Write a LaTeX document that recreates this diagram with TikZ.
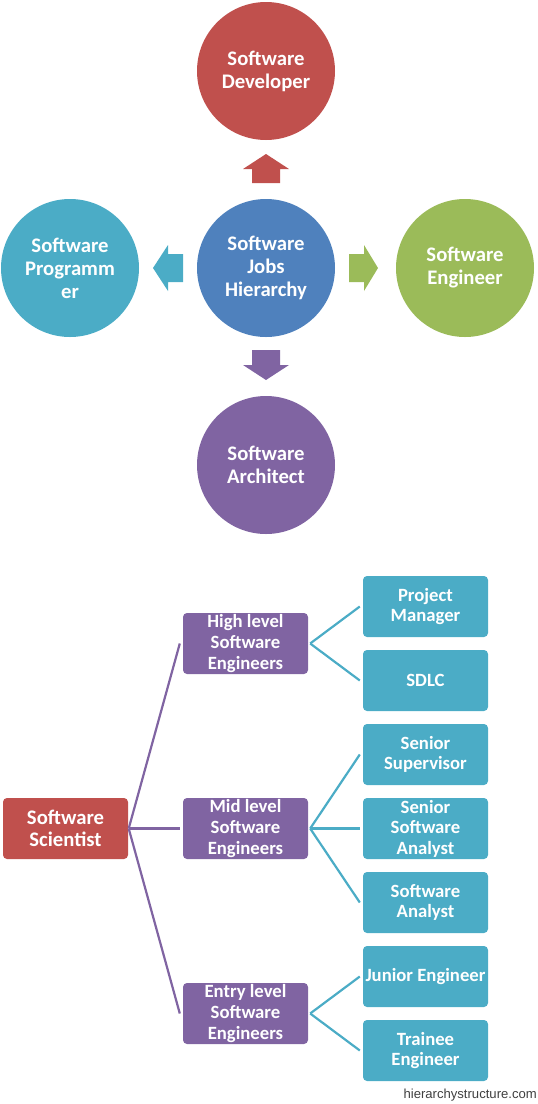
\documentclass[tikz,border=0pt]{standalone}
\usepackage{fontspec}
\setmainfont{Carlito}
\newfontfamily\wmfont{Liberation Sans}
\definecolor{cred}{HTML}{C0504D}
\definecolor{cblue}{HTML}{4F81BD}
\definecolor{cteal}{HTML}{4BACC6}
\definecolor{cgreen}{HTML}{9BBB59}
\definecolor{cpurple}{HTML}{8064A2}
\definecolor{wmgray}{HTML}{404040}
\begin{document}
\begin{tikzpicture}[x=1pt,y=-1pt,
  circ/.style={circle, minimum size=138pt, inner sep=0pt, text=white,
    font=\bfseries\fontsize{20.7}{23}\selectfont, align=center},
  sbox/.style={rectangle, rounded corners=4pt, minimum width=125pt, minimum height=61pt,
    inner sep=0pt, text=white, font=\bfseries\fontsize{18.7}{20.6}\selectfont, align=center},
  bigbox/.style={sbox, font=\bfseries\fontsize{20.7}{22.3}\selectfont},
  pline/.style={draw=cpurple, line width=2.2pt},
  tline/.style={draw=cteal, line width=2.2pt},
  wmark/.style={anchor=base east, inner sep=0pt, text=wmgray,
    font=\wmfont\fontsize{13.1}{16}\selectfont}
]
\useasboundingbox (0,0) rectangle (538,1104);

% ---- top: circles ----
\node[circ, fill=cred]    (dev)  at (266,71)  {Software\\Developer};
\node[circ, fill=cblue]   (hub)  at (266,268) {Software\\Jobs\\Hierarchy};
\node[circ, fill=cteal]   (prog) at (70,268)  {Software\\Programm\\er};
\node[circ, fill=cgreen]  (eng)  at (465,268) {Software\\Engineer};
\node[circ, fill=cpurple] (arch) at (266,465) {Software\\Architect};

% ---- block arrows ----
\fill[cred]    (252,183) -- (252,169) -- (243,169) -- (266,154) -- (289,169) -- (280,169) -- (280,183) -- cycle;
\fill[cpurple] (252,350) -- (252,365) -- (243,365) -- (266,380) -- (289,365) -- (280,365) -- (280,350) -- cycle;
\fill[cteal]   (183,254) -- (168,254) -- (168,245) -- (153,268) -- (168,291) -- (168,282) -- (183,282) -- cycle;
\fill[cgreen]  (349,254) -- (364,254) -- (364,245) -- (378,268) -- (364,291) -- (364,282) -- (349,282) -- cycle;

% ---- bottom: tree ----
\node[bigbox, fill=cred] (sci) at (65.5,828.5) {Software\\Scientist};

\node[sbox, fill=cpurple] (hi)  at (245.5,643.5)  {High level\\Software\\Engineers};
\node[sbox, fill=cpurple] (mid) at (245.5,828.5)  {Mid level\\Software\\Engineers};
\node[sbox, fill=cpurple] (ent) at (245.5,1013.5) {Entry level\\Software\\Engineers};

\node[sbox, fill=cteal] (pm)  at (425.5,606.5)  {Project\\Manager};
\node[sbox, fill=cteal] (sd)  at (425.5,680.5)  {SDLC};
\node[sbox, fill=cteal] (ss)  at (425.5,754.5)  {Senior\\Supervisor};
\node[sbox, fill=cteal] (ssa) at (425.5,828.5)  {Senior\\Software\\Analyst};
\node[sbox, fill=cteal] (sa)  at (425.5,902.5)  {Software\\Analyst};
\node[sbox, fill=cteal] (je)  at (425.5,976.5)  {Junior Engineer};
\node[sbox, fill=cteal] (te)  at (425.5,1050.5) {Trainee\\Engineer};

\draw[pline] ([xshift=0.5pt]sci.east) -- ([xshift=-3pt]hi.west);
\draw[pline] ([xshift=0.5pt]sci.east) -- ([xshift=-3pt]mid.west);
\draw[pline] ([xshift=0.5pt]sci.east) -- ([xshift=-3pt]ent.west);

\draw[tline] ([xshift=2pt]hi.east) -- ([xshift=-3pt]pm.west);
\draw[tline] ([xshift=2pt]hi.east) -- ([xshift=-3pt]sd.west);
\draw[tline] ([xshift=2pt]mid.east) -- ([xshift=-3pt]ss.west);
\draw[tline] ([xshift=2pt]mid.east) -- ([xshift=-3pt]ssa.west);
\draw[tline] ([xshift=2pt]mid.east) -- ([xshift=-3pt]sa.west);
\draw[tline] ([xshift=2pt]ent.east) -- ([xshift=-3pt]je.west);
\draw[tline] ([xshift=2pt]ent.east) -- ([xshift=-3pt]te.west);

\node[wmark] (wm) at (537,1098) {hierarchystructure.com};
\end{tikzpicture}
\end{document}
